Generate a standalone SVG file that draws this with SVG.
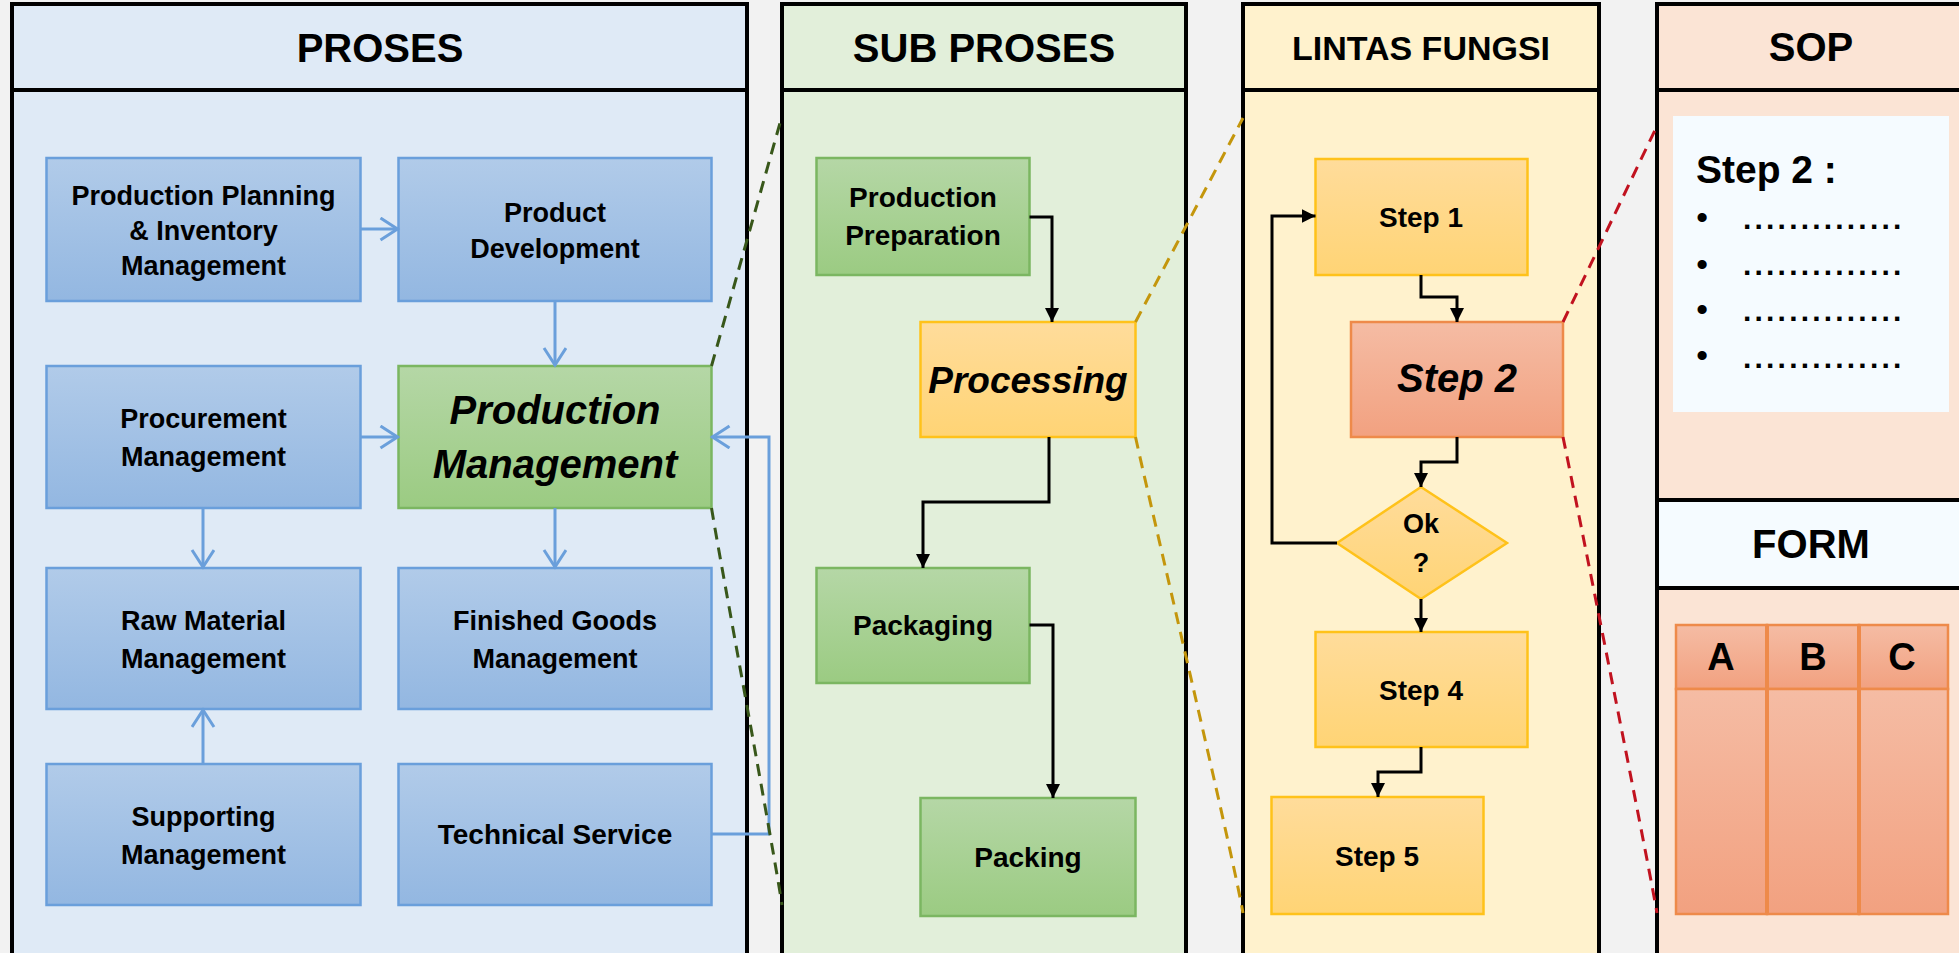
<svg xmlns="http://www.w3.org/2000/svg" width="1959" height="953" viewBox="0 0 1959 953">
<defs>
<linearGradient id="gB" x1="0" y1="0" x2="0" y2="1"><stop offset="0" stop-color="#b1cbe9"/><stop offset="1" stop-color="#93b7e1"/></linearGradient>
<linearGradient id="gG" x1="0" y1="0" x2="0" y2="1"><stop offset="0" stop-color="#b5d7a6"/><stop offset="1" stop-color="#9bcb82"/></linearGradient>
<linearGradient id="gY" x1="0" y1="0" x2="0" y2="1"><stop offset="0" stop-color="#ffdc9b"/><stop offset="1" stop-color="#ffd475"/></linearGradient>
<linearGradient id="gS" x1="0" y1="0" x2="0" y2="1"><stop offset="0" stop-color="#f5bca4"/><stop offset="1" stop-color="#f2a180"/></linearGradient>
<marker id="ao" markerUnits="userSpaceOnUse" markerWidth="24" markerHeight="26" refX="20" refY="12" orient="auto"><path d="M2,1 L19,12 L2,23" fill="none" stroke="#6a9fdb" stroke-width="3"/></marker>
<marker id="ab" markerUnits="userSpaceOnUse" markerWidth="16" markerHeight="14" refX="14" refY="7" orient="auto"><path d="M0,0 L14,7 L0,14 Z" fill="#000"/></marker>
</defs>
<style>
.pl{stroke:#000;stroke-width:4}
.hd{font-family:"Liberation Sans",Arial,sans-serif;font-weight:bold;font-size:40px;text-anchor:middle;fill:#000}
.t{font-family:"Liberation Sans",Arial,sans-serif;font-weight:bold;font-size:27px;text-anchor:middle;fill:#000}
.t28{font-size:28px}
.it{font-style:italic}
.blue{fill:url(#gB);stroke:#6a9fdb;stroke-width:2.5}
.green{fill:url(#gG);stroke:#7bb661;stroke-width:2.5}
.yel{fill:url(#gY);stroke:#ffc21a;stroke-width:2.5}
.sal{fill:url(#gS);stroke:#ee8a4a;stroke-width:2.5}
.cb{fill:none;stroke:#6a9fdb;stroke-width:3;marker-end:url(#ao)}
.ck{fill:none;stroke:#000;stroke-width:3;marker-end:url(#ab)}
.dg{fill:none;stroke:#38571a;stroke-width:3;stroke-dasharray:12 8}
.dy{fill:none;stroke:#c4960c;stroke-width:3;stroke-dasharray:12 8}
.dr{fill:none;stroke:#c1121f;stroke-width:3;stroke-dasharray:12 8}
.bul{font-family:"Liberation Sans",Arial,sans-serif;font-weight:bold;font-size:32px;text-anchor:middle;fill:#000}
.dots{font-family:"Liberation Sans",Arial,sans-serif;font-weight:bold;font-size:30px;letter-spacing:3.2px;fill:#000}
</style>
<rect width="1959" height="953" fill="#f2f2f2"/>

<g id="panel-proses">
<rect x="12" y="4" width="735" height="960" fill="#dfeaf6" class="pl"/>
<line x1="12" y1="90" x2="747" y2="90" class="pl"/>
<text x="380" y="62" class="hd">PROSES</text>
</g>
<g id="panel-subproses">
<rect x="782" y="4" width="404" height="960" fill="#e2efda" class="pl"/>
<line x1="782" y1="90" x2="1186" y2="90" class="pl"/>
<text x="984" y="62" class="hd">SUB PROSES</text>
</g>
<g id="panel-lintas">
<rect x="1243" y="4" width="356" height="960" fill="#fff2cd" class="pl"/>
<line x1="1243" y1="90" x2="1599" y2="90" class="pl"/>
<text x="1421" y="60" class="hd" style="font-size:34px">LINTAS FUNGSI</text>
</g>
<g id="panel-sop">
<rect x="1657" y="4" width="320" height="960" fill="#fbe4d5" class="pl"/>
<line x1="1657" y1="90" x2="1977" y2="90" class="pl"/>
<text x="1811" y="61" class="hd">SOP</text>
<rect x="1673" y="116" width="276" height="296" fill="#f5fbff"/>
<text x="1696" y="183" class="t" style="font-size:39px;text-anchor:start">Step 2 :</text>
<text x="1702" y="228" class="bul">•</text>
<text x="1702" y="275" class="bul">•</text>
<text x="1702" y="320" class="bul">•</text>
<text x="1702" y="366" class="bul">•</text>
<text x="1743" y="229" class="dots">..............</text>
<text x="1743" y="275" class="dots">..............</text>
<text x="1743" y="321" class="dots">..............</text>
<text x="1743" y="368" class="dots">..............</text>
</g>
<g id="panel-form">
<rect x="1657" y="500" width="320" height="88" fill="#f5fbff" class="pl"/>
<text x="1811" y="558" class="hd">FORM</text>
</g>
<g id="form-table">
<rect x="1676" y="625" width="91" height="64" class="sal"/>
<rect x="1767" y="625" width="92" height="64" class="sal"/>
<rect x="1859" y="625" width="89" height="64" class="sal"/>
<rect x="1676" y="689" width="91" height="225" class="sal"/>
<rect x="1767" y="689" width="92" height="225" class="sal"/>
<rect x="1859" y="689" width="89" height="225" class="sal"/>
<line x1="1767" y1="625" x2="1767" y2="914" stroke="#ee8a4a" stroke-width="4"/>
<line x1="1859" y1="625" x2="1859" y2="914" stroke="#ee8a4a" stroke-width="4"/>
<text x="1721" y="670" class="hd" style="font-size:38px">A</text>
<text x="1813" y="670" class="hd" style="font-size:38px">B</text>
<text x="1902" y="670" class="hd" style="font-size:38px">C</text>
</g>

<g id="n-ppim"><rect x="46.5" y="158" width="314" height="143" class="blue"/>
<text class="t" x="203.5" y="204.5">Production Planning</text><text class="t" x="203.5" y="239.5">&amp; Inventory</text><text class="t" x="203.5" y="274.5">Management</text></g>
<g id="n-pd"><rect x="398.5" y="158" width="313" height="143" class="blue"/>
<text class="t" x="555" y="221.5">Product</text><text class="t" x="555" y="257.5">Development</text></g>
<g id="n-proc"><rect x="46.5" y="366" width="314" height="142" class="blue"/>
<text class="t" x="203.5" y="428">Procurement</text><text class="t" x="203.5" y="466">Management</text></g>
<g id="n-pm"><rect x="398.5" y="366" width="313" height="142" class="green"/>
<text class="t it" style="font-size:40px" x="555" y="424">Production</text><text class="t it" style="font-size:40px" x="555" y="478">Management</text></g>
<g id="n-raw"><rect x="46.5" y="568" width="314" height="141" class="blue"/>
<text class="t" x="203.5" y="629.5">Raw Material</text><text class="t" x="203.5" y="667.5">Management</text></g>
<g id="n-fg"><rect x="398.5" y="568" width="313" height="141" class="blue"/>
<text class="t" x="555" y="629.5">Finished Goods</text><text class="t" x="555" y="667.5">Management</text></g>
<g id="n-sup"><rect x="46.5" y="764" width="314" height="141" class="blue"/>
<text class="t" x="203.5" y="825.5">Supporting</text><text class="t" x="203.5" y="863.5">Management</text></g>
<g id="n-ts"><rect x="398.5" y="764" width="313" height="141" class="blue"/>
<text class="t" style="font-size:28px" x="555" y="844">Technical Service</text></g>

<g id="n-prep"><rect x="816.5" y="158" width="213" height="117" class="green"/>
<text class="t t28" x="923" y="207">Production</text><text class="t t28" x="923" y="245">Preparation</text></g>
<g id="n-processing"><rect x="920.5" y="322" width="215" height="115" class="yel"/>
<text class="t it" style="font-size:37px" x="1028" y="393">Processing</text></g>
<g id="n-packaging"><rect x="816.5" y="568" width="213" height="115" class="green"/>
<text class="t t28" x="923" y="635">Packaging</text></g>
<g id="n-packing"><rect x="920.5" y="798" width="215" height="118" class="green"/>
<text class="t t28" x="1028" y="867">Packing</text></g>

<g id="n-step1"><rect x="1315.5" y="159" width="212" height="116" class="yel"/>
<text class="t t28" x="1421" y="227">Step 1</text></g>
<g id="n-step2"><rect x="1351" y="322" width="212" height="115" class="sal"/>
<text class="t it" style="font-size:40px" x="1457" y="392">Step 2</text></g>
<g id="n-ok"><path d="M1421,487 L1507,543 L1421,599 L1337,543 Z" class="yel"/>
<text class="t" x="1421" y="533">Ok</text><text class="t" x="1421" y="572">?</text></g>
<g id="n-step4"><rect x="1315.5" y="632" width="212" height="115" class="yel"/>
<text class="t t28" x="1421" y="700">Step 4</text></g>
<g id="n-step5"><rect x="1271.5" y="797" width="212" height="117" class="yel"/>
<text class="t t28" x="1377" y="866">Step 5</text></g>

<g id="connectors">
<path class="cb" d="M360.5,229 H398.5"/>
<path class="cb" d="M555,301 V366"/>
<path class="cb" d="M360.5,437 H398.5"/>
<path class="cb" d="M203,508 V568"/>
<path class="cb" d="M555,508 V568"/>
<path class="cb" d="M203,764 V709"/>
<path class="cb" d="M711.5,834 H769 V437 H711.5"/>
<path class="ck" d="M1029.5,217 H1052 V322"/>
<path class="ck" d="M1049,437 V502 H923 V568"/>
<path class="ck" d="M1029.5,625 H1053 V798"/>
<path class="ck" d="M1421,275 V297 H1457 V322"/>
<path class="ck" d="M1457,437 V462 H1421 V487"/>
<path class="ck" d="M1421,599 V632"/>
<path class="ck" d="M1421,747 V772 H1378 V797"/>
<path class="ck" d="M1337,543 H1272 V216 H1315.5"/>
<path class="dg" d="M711.5,366 L782,116"/>
<path class="dg" d="M711.5,508 C720,560 772,840 782,905"/>
<path class="dy" d="M1135.5,322 L1243,118"/>
<path class="dy" d="M1135.5,437 C1148,495 1232,850 1243,913"/>
<path class="dr" d="M1563,322 L1657,126"/>
<path class="dr" d="M1563,437 C1575,495 1646,850 1657,913"/>
</g>
</svg>
